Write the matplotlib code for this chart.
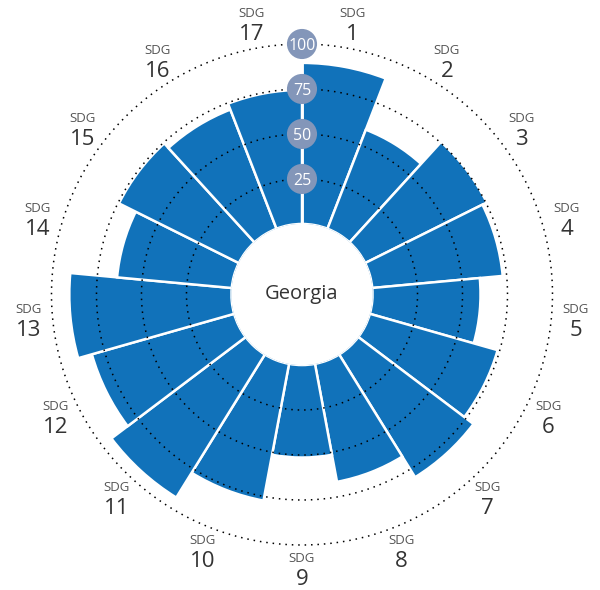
import numpy as np
import matplotlib
matplotlib.use("Agg")
import matplotlib.pyplot as plt

plt.rcParams['font.family'] = ['Open Sans', 'DejaVu Sans']

# ---- data ----
goals = [f"{i}" for i in range(1, 18)]
scores = [89.5, 59.0, 75.5, 72.8, 60.0, 73.8, 80.2, 66.7, 51.4,
          77.3, 93.5, 82.2, 90.1, 64.0, 74.4, 71.0, 74.5]
ring_values = [25, 50, 75, 100]
ring_labels = ["25", "50", "75", "100"]
country = "Georgia"

# ---- style ----
bar_color = "#1172BA"
badge_color = "#8396B9"
hole = 39.2       # inner hole in value units
rmax = 120
label_r = 113.6

W, H = 600, 590
cx, cy = 302, 294.5
R = 70.5 + 1.8 * rmax
fig = plt.figure(figsize=(W / 100, H / 100), dpi=100)
ax = fig.add_axes([(cx - R) / W, (H - cy - R) / H, 2 * R / W, 2 * R / H],
                  projection='polar')
ax.set_theta_zero_location('N')
ax.set_theta_direction(-1)
ax.set_ylim(0, rmax)
ax.set_rorigin(-hole)
ax.grid(False)
ax.set_xticks([])
ax.set_yticks([])
for sp in ax.spines.values():
    sp.set_visible(False)
    sp.set_linewidth(0)
ax.set_frame_on(False)
ax.patch.set_visible(False)

n = len(scores)
width = 2 * np.pi / n
theta = np.arange(n) * width + width / 2
ax.bar(theta, scores, width=width, bottom=0, color=bar_color,
       edgecolor='white', linewidth=1.8, align='center', zorder=2)

tt = np.linspace(0, 2 * np.pi, 720)
for v in ring_values:
    ax.plot(tt, np.full_like(tt, v), color='black', lw=1.1,
            linestyle=(0, (1, 3.2)), zorder=3)

ax.plot([0, 0], [0, 100], color='white', lw=2, zorder=4)
ax.scatter(np.zeros(len(ring_values)), ring_values, s=470, color=badge_color,
           zorder=5, edgecolors='none')
for v, lab in zip(ring_values, ring_labels):
    ax.text(0, v, lab, color='white', fontsize=11.5, ha='center',
            va='center_baseline', zorder=6)

ax.text(0.5, 0.5, country, transform=ax.transAxes, ha='center',
        va='center', fontsize=14.5, color='#333333')

for t, g in zip(theta, goals):
    ax.annotate("SDG", xy=(t, label_r), xytext=(0, 10.5),
                textcoords='offset pixels', ha='center', va='center',
                fontsize=9.5, color='#555555', annotation_clip=False)
    ax.annotate(g, xy=(t, label_r), xytext=(0, -10.5),
                textcoords='offset pixels', ha='center', va='center',
                fontsize=16, color='#333333', annotation_clip=False)

fig.savefig("out.png", dpi=100)
